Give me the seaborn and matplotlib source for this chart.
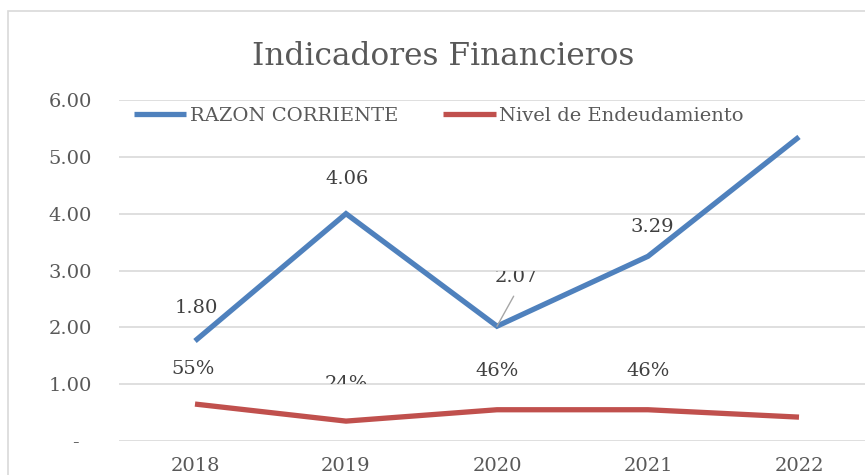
import numpy as np
import pandas as pd
import seaborn as sns
import matplotlib.pyplot as plt
from matplotlib.patches import Rectangle
from matplotlib.transforms import Bbox, TransformedBbox

years = ['2018', '2019', '2020', '2021', '2022']
razon_corriente = [1.76, 4.00, 2.02, 3.25, 5.35]
nivel_endeudamiento = [0.65, 0.35, 0.55, 0.55, 0.42]
razon_labels = ['1.80', '4.06', '2.07', '3.29', None]
nivel_labels = ['55%', '24%', '46%', '46%', None]
y_ticks = [0, 1, 2, 3, 4, 5, 6]
y_tick_labels = ['-  ', '1.00', '2.00', '3.00', '4.00', '5.00', '6.00']

BLUE = '#4F81BD'
RED = '#C0504D'
GRAY_TEXT = '#595959'
LABEL_TEXT = '#404040'
GRID = '#D9D9D9'

df = pd.DataFrame({
    'year': years * 2,
    'valor': razon_corriente + nivel_endeudamiento,
    'serie': ['RAZON CORRIENTE'] * 5 + ['Nivel de Endeudamiento'] * 5,
})

sns.set_style('white')
plt.rcParams['font.family'] = ['DejaVu Serif']

W, H = 865, 475
fig = plt.figure(figsize=(W / 100, H / 100), dpi=100)
ax = fig.add_axes([119.5 / W, (H - 441) / H, 755 / W, 341 / H])

sns.lineplot(data=df, x='year', y='valor', hue='serie',
             palette=[BLUE, RED], linewidth=3.8, ax=ax, legend=False,
             sort=False)
for ln in ax.get_lines():
    ln.set_solid_capstyle('butt')
    ln.set_solid_joinstyle('miter')

ax.set_xlim(-0.5, 4.5)
ax.set_ylim(0, 6)
ax.set_yticks(y_ticks)
ax.set_yticklabels(y_tick_labels)
ax.set_xlabel('')
ax.set_ylabel('')
ax.yaxis.grid(True, color=GRID, linewidth=1.2)
ax.set_axisbelow(True)
for s in ax.spines.values():
    s.set_visible(False)
ax.tick_params(axis='y', length=0, pad=20, labelsize=14, labelcolor=GRAY_TEXT)
ax.tick_params(axis='x', length=0, pad=11.5, labelsize=14, labelcolor=GRAY_TEXT)

# data labels (offsets in points from each point)
razon_off = [(1, 24), (0.5, 25), (14, 35.3), (3, 21), None]
nivel_off = [(-1.5, 25), (0, 27), (0, 28), (0, 28), None]

for i, (lab, off) in enumerate(zip(razon_labels, razon_off)):
    if lab is None:
        continue
    t = ax.annotate(lab, xy=(i, razon_corriente[i]), xytext=off,
                    textcoords='offset points', ha='center', va='center',
                    fontsize=14, color=LABEL_TEXT)
    if lab == '2.07':
        ax.annotate('', xy=(i, razon_corriente[i]), xytext=(12, 21.6),
                    textcoords='offset points',
                    arrowprops=dict(arrowstyle='-', color='#A6A6A6', lw=1,
                                    shrinkA=0, shrinkB=0))
        t.set_clip_on(True)
        t.set_clip_box(TransformedBbox(Bbox([[1.5, 2.75], [3, 3.0]]), ax.transData))

for i, (lab, off) in enumerate(zip(nivel_labels, nivel_off)):
    if lab is None:
        continue
    t = ax.annotate(lab, xy=(i, nivel_endeudamiento[i]), xytext=off,
                    textcoords='offset points', ha='center', va='center',
                    fontsize=14, color=LABEL_TEXT)
    if lab == '24%':
        t.set_clip_on(True)
        t.set_clip_box(TransformedBbox(Bbox([[0.5, 1.0], [1.5, 6]]), ax.transData))

# legend
handles = ax.get_lines()[:2]
leg = fig.legend(handles, ['RAZON CORRIENTE', 'Nivel de Endeudamiento'],
                 loc='center left', bbox_to_anchor=(124 / W, 1 - 116 / H),
                 ncol=2, frameon=False, borderpad=0, fontsize=14,
                 handlelength=2.7, handletextpad=0.2, columnspacing=2.3,
                 labelcolor=GRAY_TEXT)

fig.text(443 / W, 1 - 65 / H, 'Indicadores Financieros', ha='center',
         va='baseline', fontsize=22.5, color=GRAY_TEXT)

# chart area border
fig.add_artist(Rectangle((8 / W, -0.5), 2, 1.5 - 11 / H, transform=fig.transFigure,
                         fill=False, edgecolor=GRID, linewidth=1.2))

fig.savefig('out.png', dpi=100)
